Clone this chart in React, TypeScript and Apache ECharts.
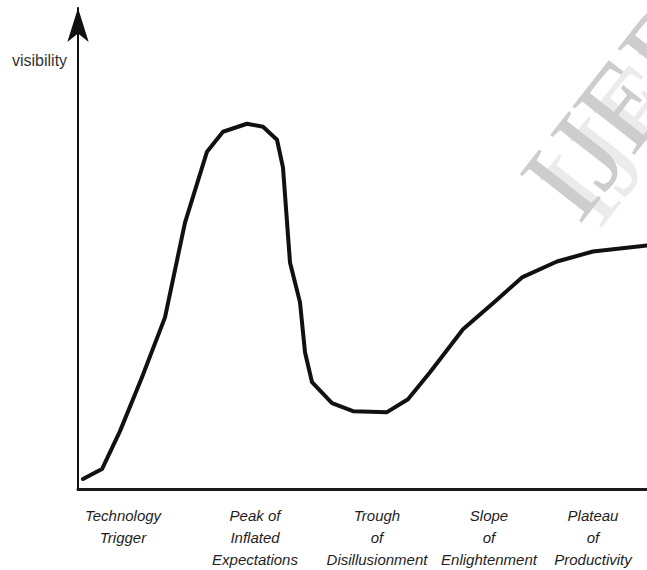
import React, { useEffect, useRef } from "react";
import * as echarts from "echarts";

// Hype-cycle curve (x: time, y: visibility)
const curveX = [5, 24, 42, 64, 87, 107, 129, 145, 169, 185, 199, 205, 212, 222, 227, 234, 254, 275, 309, 330, 352, 372, 385, 417, 444, 479, 515, 569];
const curveY = [10, 20, 58, 112, 172, 267, 338, 358, 366, 363, 350, 322, 227, 187, 137, 107, 86, 78, 77, 90, 117, 143, 160, 188, 212, 228, 238, 244];

// Phase labels along the time axis
const phasePositions = [45, 177, 299, 411, 515];
const phaseLabels = [
  "Technology\nTrigger",
  "Peak of\nInflated\nExpectations",
  "Trough\nof\nDisillusionment",
  "Slope\nof\nEnlightenment",
  "Plateau\nof\nProductivity",
];

const yAxisName = "visibility";
const watermark = "IJERT";

export default function App() {
  const ref = useRef<HTMLDivElement>(null);

  useEffect(() => {
    if (!ref.current) return;
    const chart = echarts.init(ref.current, undefined, { renderer: "svg" });
    const data = curveX.map((x, i) => [x, curveY[i]]);
    const rot = (52 * Math.PI) / 180;
    chart.setOption({
      animation: false,
      backgroundColor: "#ffffff",
      grid: { left: 78, right: 0, top: 8, bottom: 80, containLabel: false },
      xAxis: {
        type: "value",
        min: 0,
        max: 569,
        axisLine: { show: true, onZero: false, lineStyle: { color: "#1a1a1a", width: 3 } },
        axisTick: { show: false },
        splitLine: { show: false },
        axisLabel: {
          show: true,
          customValues: phasePositions,
          formatter: (v: number) => {
            const i = phasePositions.indexOf(v);
            return i >= 0 ? phaseLabels[i] : "";
          },
          margin: 15,
          fontFamily: "Liberation Sans",
          fontStyle: "italic",
          fontSize: 15,
          lineHeight: 22,
          color: "#1e1e1e",
          hideOverlap: false,
        },
      },
      yAxis: {
        type: "value",
        min: 0,
        max: 482,
        axisLine: {
          show: true,
          onZero: false,
          symbol: ["none", "arrow"],
          symbolSize: [16, 34],
          lineStyle: { color: "#111111", width: 2 },
        },
        axisTick: { show: false },
        axisLabel: { show: false },
        splitLine: { show: false },
      },
      graphic: [
        {
          type: "text",
          x: 567,
          y: 206,
          rotation: rot,
          z: -2,
          style: {
            text: watermark,
            font: '120px "Liberation Serif"',
            fill: "#ebebeb",
            textAlign: "left",
            textVerticalAlign: "middle",
            align: "left",
            verticalAlign: "middle",
          },
        },
        {
          type: "text",
          x: 547,
          y: 201,
          rotation: rot,
          z: -1,
          style: {
            text: watermark,
            font: '120px "Liberation Serif"',
            fill: "#cdcdcd",
            textAlign: "left",
            textVerticalAlign: "middle",
            align: "left",
            verticalAlign: "middle",
          },
        },
        {
          type: "text",
          x: 12,
          y: 60,
          style: {
            text: yAxisName,
            font: '16px "Liberation Sans"',
            fill: "#333333",
            textAlign: "left",
            textVerticalAlign: "middle",
            align: "left",
            verticalAlign: "middle",
          },
        },
      ],
      series: [
        {
          type: "line",
          data,
          showSymbol: false,
          symbol: "none",
          smooth: false,
          lineStyle: { color: "#111111", width: 4, join: "round", cap: "round" },
          z: 5,
        },
      ],
    });
    return () => chart.dispose();
  }, []);

  return (
    <div
      ref={ref}
      style={{ position: "fixed", left: 0, top: 0, width: 647, height: 570, background: "#fff" }}
    />
  );
}
